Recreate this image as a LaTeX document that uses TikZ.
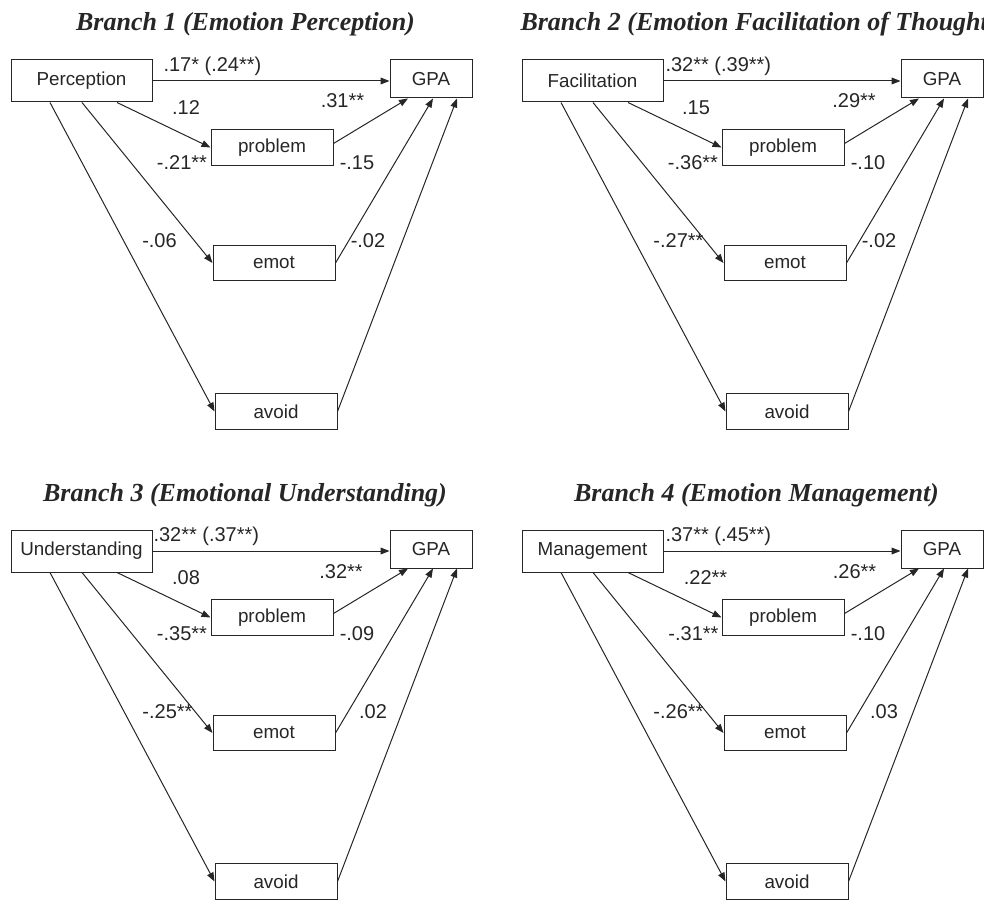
\documentclass[tikz,border=0pt]{standalone}
\usepackage{fontspec}
\setmainfont{Liberation Serif}
\setsansfont{Liberation Sans}
\usetikzlibrary{arrows.meta,calc}

\tikzset{
  branchtitle/.style={font=\bfseries\itshape\fontsize{13}{15}\selectfont, inner sep=0pt, anchor=base},
  varbox/.style={draw, rectangle, inner sep=0pt, font=\sffamily\fontsize{9.4}{11}\selectfont},
  srcbox/.style={varbox, minimum width=70.5pt, minimum height=21pt},
  gpabox/.style={varbox, minimum width=41pt, minimum height=19pt},
  medbox/.style={varbox, minimum width=61pt, minimum height=17.75pt},
  coef/.style={font=\sffamily\fontsize{10}{12}\selectfont, inner sep=0pt, anchor=base},
  link/.style={-{Triangle[length=4.5pt,width=3.4pt]}}
}

% boxes and arrows shared by the four branches
\newcommand{\branchpaths}[1]{
  \node[srcbox] (src) at (81.5,81) {#1};
  \node[gpabox] (gpa) at (431,79) {GPA};
  \node[medbox] (problem) at (272,147.5) {problem};
  \node[medbox] (emot) at (274,263) {emot};
  \node[medbox] (avoid) at (276,411.5) {avoid};
  \draw[link] (src.east) -- (src.east -| gpa.west);
  \draw[link] ($(src.south)+(35.5,0)$) -- (problem.west);
  \draw[link] ($(src.south)+(0.5,0)$) -- (emot.west);
  \draw[link] ($(src.south)+(-31.5,0)$) -- (avoid.west);
  \draw[link] ($(problem.east)+(0,-4)$) -- ($(gpa.south)+(-23,0)$);
  \draw[link] (emot.east) -- ($(gpa.south)+(2,0)$);
  \draw[link] (avoid.east) -- ($(gpa.south)+(26,0)$);
}

\begin{document}
\begin{tikzpicture}[x=0.5pt, y=-0.5pt, line width=0.5pt, color=black!85]
\useasboundingbox (0,0) rectangle (984,903);

% Branch 1
\begin{scope}[name prefix=b1-]
  \node[branchtitle] (title) at (245.5,31) {Branch 1 (Emotion Perception)};
  \branchpaths{Perception}
  \node[coef, anchor=base west] (direct) at (163,72) {.17* (.24**)};
  \node[coef] (lprob) at (186,115) {.12};
  \node[coef] (rprob) at (342.5,108) {.31**};
  \node[coef] (lmid) at (182,170) {-.21**};
  \node[coef] (rmid) at (357,170) {-.15};
  \node[coef] (lemot) at (159.5,248) {-.06};
  \node[coef] (remot) at (368,248) {-.02};
\end{scope}

% Branch 2
\begin{scope}[shift={(511,0)}, name prefix=b2-]
  \node[branchtitle, anchor=base west] (title) at (9,31) {Branch 2 (Emotion Facilitation of Thought)};
  \branchpaths{Facilitation}
  \node[coef, anchor=base west] (direct) at (154,72) {.32** (.39**)};
  \node[coef] (lprob) at (185,115) {.15};
  \node[coef] (rprob) at (343,108) {.29**};
  \node[coef] (lmid) at (182,170) {-.36**};
  \node[coef] (rmid) at (357,170) {-.10};
  \node[coef] (lemot) at (167.5,248) {-.27**};
  \node[coef] (remot) at (368,248) {-.02};
\end{scope}

% Branch 3
\begin{scope}[shift={(0,470)}, name prefix=b3-]
  \node[branchtitle] (title) at (245,31) {Branch 3 (Emotional Understanding)};
  \branchpaths{Understanding}
  \node[coef, anchor=base west] (direct) at (153,71) {.32** (.37**)};
  \node[coef] (lprob) at (186,114) {.08};
  \node[coef] (rprob) at (341,108) {.32**};
  \node[coef] (lmid) at (182,170) {-.35**};
  \node[coef] (rmid) at (357,170) {-.09};
  \node[coef] (lemot) at (167.5,248) {-.25**};
  \node[coef] (remot) at (373,248) {.02};
\end{scope}

% Branch 4
\begin{scope}[shift={(511,470)}, name prefix=b4-]
  \node[branchtitle] (title) at (245.5,31) {Branch 4 (Emotion Management)};
  \branchpaths{Management}
  \node[coef, anchor=base west] (direct) at (154,71) {.37** (.45**)};
  \node[coef] (lprob) at (194.5,114) {.22**};
  \node[coef] (rprob) at (343.5,108) {.26**};
  \node[coef] (lmid) at (182.5,170) {-.31**};
  \node[coef] (rmid) at (357,170) {-.10};
  \node[coef] (lemot) at (167.5,248) {-.26**};
  \node[coef] (remot) at (373,248) {.03};
\end{scope}
\end{tikzpicture}
\end{document}
